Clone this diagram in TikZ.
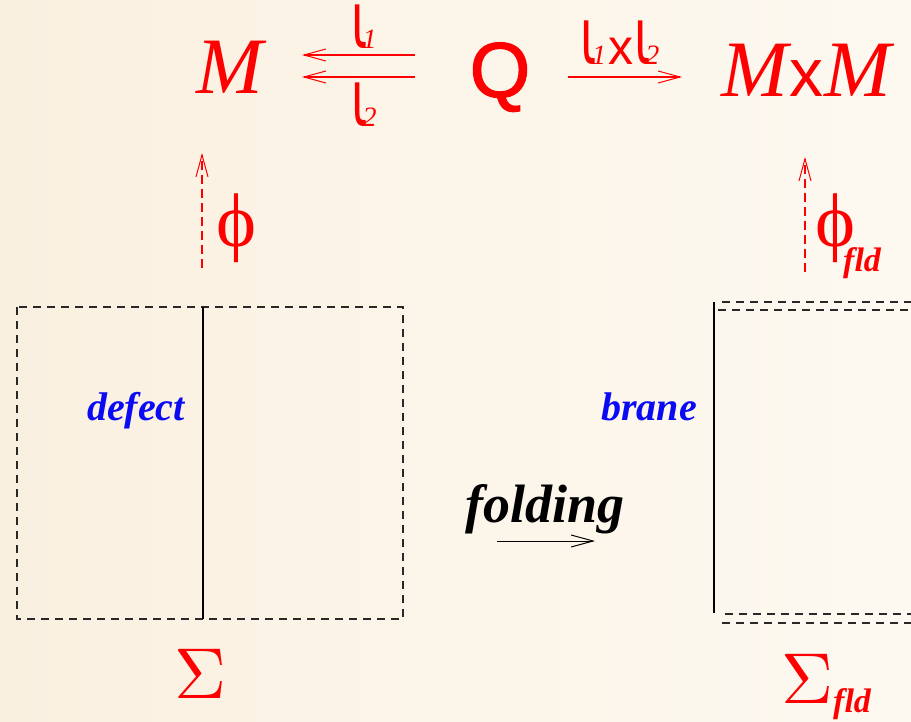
\documentclass[tikz,border=0pt]{standalone}
\usepackage{fontspec}
\setmainfont{Liberation Serif}
\newfontfamily\sansf{Liberation Sans}
\newfontfamily\dvs{DejaVu Sans}
\usetikzlibrary{arrows.meta}
\definecolor{bgl}{RGB}{250,240,224}
\definecolor{bgr}{RGB}{253,249,241}
\definecolor{redc}{RGB}{255,0,0}
\definecolor{bluec}{RGB}{10,10,245}
\definecolor{dashc}{RGB}{40,40,40}
\newcommand{\fsz}[1]{\fontsize{#1}{#1}\selectfont}
\newcommand{\iotag}{\scalebox{1.15}[1.9]{\dvs\fsz{42}ι}}
\newcommand{\subn}[1]{\kern-5pt{\fsz{28}\itshape #1}}
\newcommand{\bigSigma}{\scalebox{7.2}{\fontsize{10}{12}\selectfont$\Sigma$}}
\tikzset{
  lab/.style={inner sep=0pt, text=redc},
  tipa/.style={-{Straight Barb[length=22pt,width=12pt,line width=1pt]}},
  redarr/.style={draw=redc, line width=1.1pt, tipa},
  redd/.style={redarr, dash pattern=on 9pt off 5pt},
  dashbox/.style={draw=dashc, line width=1.2pt, dash pattern=on 8pt off 6pt},
  solidline/.style={draw=black, line width=2.6pt},
  word/.style={inner sep=0pt, font=\fsz{40}\bfseries\itshape},
}
\begin{document}
\begin{tikzpicture}[x=1pt,y=-1pt]
\useasboundingbox (0,0) rectangle (911,721);
\shade[left color=bgl, right color=bgr] (0,0) rectangle (911,721);
% top row
\node[lab, anchor=base] (M) at (230,93) {\fsz{80}\itshape M};
\node[lab, anchor=base] (Q) at (500,97) {\sansf\fsz{78}\addfontfeatures{FakeBold=1.5}Q};
\node[lab, anchor=base] (MM) at (806,96) {\fsz{80}\itshape M\kern1pt{\upshape\sansf\fsz{68}x}\kern1pt M};
\coordinate (a1s) at (415,55); \coordinate (a1e) at (302,55);
\coordinate (a2s) at (415,77); \coordinate (a2e) at (302,77);
\draw[redarr] (a1s) -- (a1e);
\draw[redarr] (a2s) -- (a2e);
\node[lab, anchor=base] (i1) at (364,48) {\iotag\subn{1}};
\node[lab, anchor=base] (i2) at (364,126) {\iotag\subn{2}};
\coordinate (a3s) at (568,77); \coordinate (a3e) at (682,77);
\draw[redarr] (a3s) -- (a3e);
\node[lab, anchor=base] (i12) at (620,64) {\iotag\subn{1}\kern2pt{\sansf\fsz{50}x}\kern1pt\iotag\subn{2}};
% phi arrows
\coordinate (p1s) at (202,268); \coordinate (p1e) at (202,153);
\draw[redd] (p1s) -- (p1e);
\node[lab, anchor=base] (phi) at (236,246) {\fsz{76}ϕ};
\coordinate (p2s) at (805,272); \coordinate (p2e) at (805,157);
\draw[redd] (p2s) -- (p2e);
\node[lab, anchor=base] (phif) at (835,246) {\fsz{76}ϕ};
\node[lab, anchor=base west] (fld1) at (843,271) {\fsz{34}\bfseries\itshape fld};
% left box
\draw[dashbox] (17,307) rectangle (403,619);
\coordinate (d1) at (203,307); \coordinate (d2) at (203,619);
\draw[solidline] (d1) -- (d2);
\node[word, text=bluec, anchor=base east] (defect) at (185,420) {defect};
\node[lab, anchor=base] (S) at (200,698) {\bigSigma};
% right
\coordinate (b1) at (714,302); \coordinate (b2) at (714,613);
\draw[solidline] (b1) -- (b2);
\draw[dashbox] (722,302) -- (911,302);
\draw[dashbox] (718,310) -- (911,310);
\draw[dashbox] (725,614) -- (911,614);
\draw[dashbox] (722,623) -- (911,623);
\node[word, text=bluec, anchor=base east] (brane) at (697,420) {brane};
\node[lab, anchor=base] (Sf) at (807,703) {\bigSigma};
\node[lab, anchor=base west] (fld2) at (833,712) {\fsz{34}\bfseries\itshape fld};
% folding
\node[word, anchor=base, font=\fsz{54}\bfseries\itshape] (fold) at (545,522) {folding};
\coordinate (f1) at (497,541); \coordinate (f2) at (595,541);
\draw[line width=0.9pt, tipa] (f1) -- (f2);
\end{tikzpicture}
\end{document}
